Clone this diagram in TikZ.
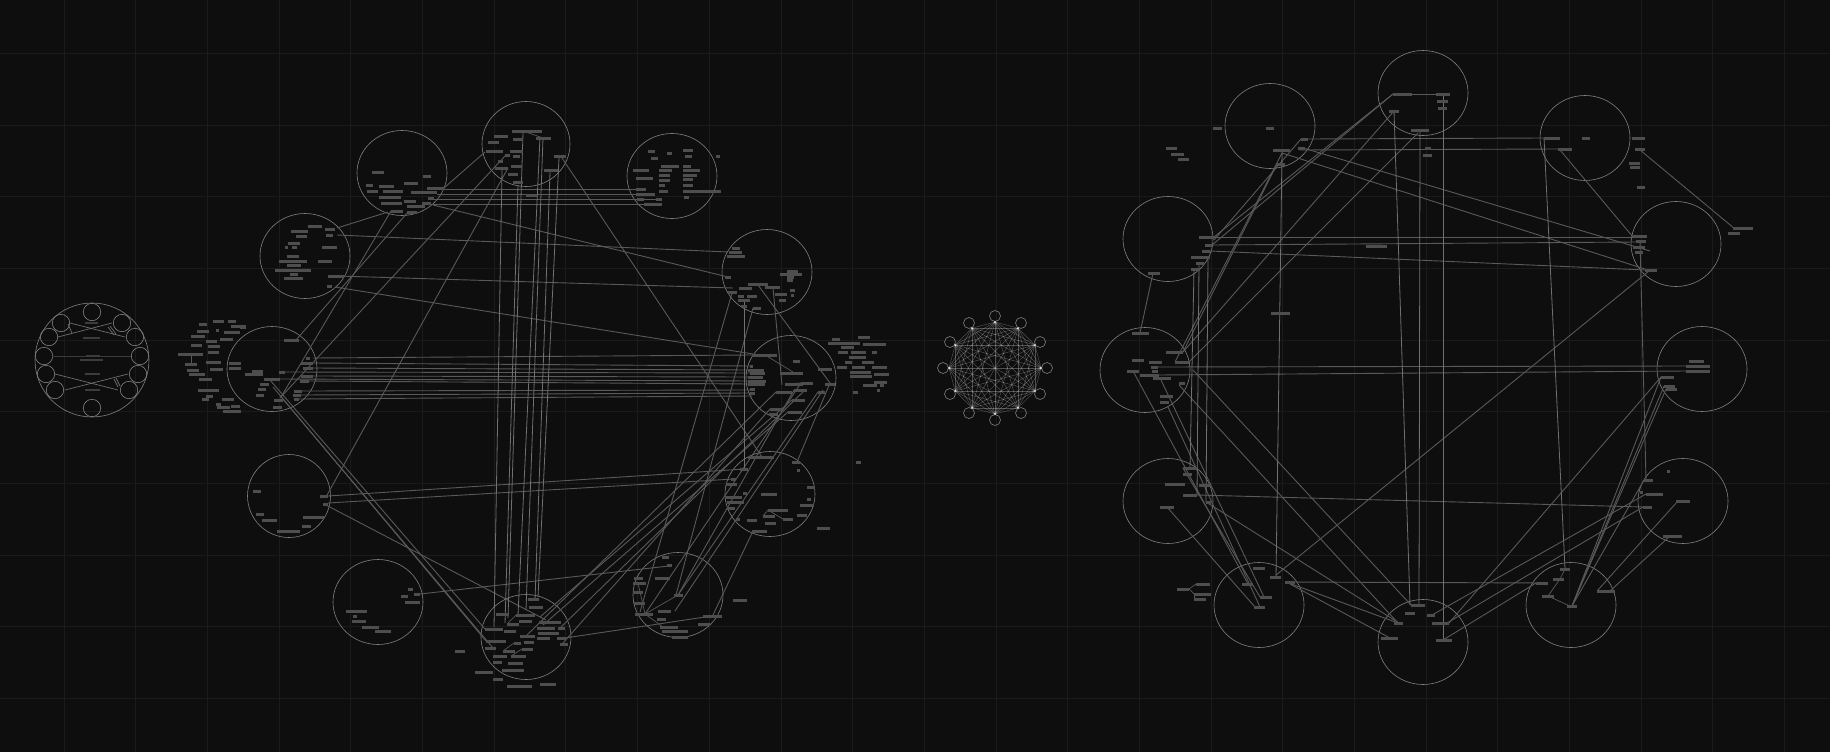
\documentclass[tikz,border=0pt]{standalone}
\definecolor{bgc}{HTML}{0E0E0E}
\definecolor{gridc}{HTML}{1B1B1B}
\definecolor{ringc}{HTML}{808080}
\definecolor{barc}{HTML}{4E4E4E}
\definecolor{faintbar}{HTML}{3C3C3C}
\definecolor{edgec}{HTML}{595959}
\definecolor{edgel}{HTML}{707070}
\tikzset{
  ring/.style={draw=ringc,line width=0.6pt},
  edge/.style={draw=edgec,line width=0.9pt},
  edgelight/.style={draw=edgel,line width=0.8pt},
  edgethin/.style={draw=edgec,line width=0.7pt},
  mesh/.style={draw=white,opacity=0.27,line width=0.5pt},
  smallline/.style={draw=ringc!85!black,line width=0.7pt},
  faintline/.style={draw=ringc!45!black,line width=0.5pt},
  gridline/.style={draw=gridc,line width=1pt}
}
\newcommand\barlist[1]{\foreach \bx/\by/\bw in {#1}{\fill[barc] (\bx,\by-1.5) rectangle ++(\bw,3);}}
\newcommand\edgelist[3]{\foreach \ax/\ay/\cx/\cy [count=\ei] in {#3}{\coordinate (#1s\ei) at (\ax,\ay); \coordinate (#1t\ei) at (\cx,\cy); \draw[#2] (#1s\ei) -- (#1t\ei);}}
\begin{document}
\begin{tikzpicture}[x=1pt,y=-1pt]
\useasboundingbox (0,0) rectangle (1830,752);
\fill[bgc] (0,0) rectangle (1830,752);
% grid
\foreach \k in {0,...,24}{\draw[gridline] ({64.2+71.68*\k},0) -- ({64.2+71.68*\k},752);}
\foreach \k in {0,...,9}{\draw[gridline] (0,{53.4+71.68*\k}) -- (1830,{53.4+71.68*\k});}

% ================= left small cluster =================
\draw[ring] (92,360) circle[radius=57];
\foreach \cx/\cy [count=\i] in {92/312,61/323,122/323,49/337,135/337,44/356,140/356,46/374,138/374,55/390,129/390,92/408}{
  \coordinate (sc\i) at (\cx,\cy);
  \draw[ring] (sc\i) circle[radius=8.7];}
\edgelist{sl}{smallline}{70/323/125/337, 112/323/58/337, 55/374/118/390, 128/374/65/390, 108/327/114/335, 110/326/116/334, 114/379/118/387, 116/378/120/386, 68/324/72/333}
\edgelist{sf}{faintline}{52/356/131/356}
\foreach \bx/\by/\bw in {85/323/13,83/338/17,86/356/14,80/360/23,85/374/15,85/390/15}{\fill[faintbar] (\bx,\by-0.6) rectangle ++(\bw,1.2);}

% ================= middle small cluster =================
\foreach \i in {0,...,11}{
  \coordinate (m\i) at ({995+46*cos(90+30*\i)},{368-46*sin(90+30*\i)});
  \coordinate (mo\i) at ({995+52*cos(90+30*\i)},{368-52*sin(90+30*\i)});
  \draw[ring] (mo\i) circle[radius=5.5];}
\foreach \i in {0,...,10}{\pgfmathtruncatemacro\s{\i+1}\foreach \j in {\s,...,11}{\draw[mesh] (m\i) -- (m\j);}}
\foreach \i in {0,...,11}{\fill[white,opacity=0.55] (m\i) circle[radius=1.3];}

% ================= left main cluster =================
\foreach \cx/\cy/\rx/\ry/\n in {402/173/45/42.5/A,526/144/44/42.5/B,672/176/45/42.5/C,305/256/45/42.5/D,272/369/45/42.5/E,767/272/45/42.5/F,791/378/45/42.5/G,770/494/45/42.5/H,526/637/45/42.5/I,678/595/45/42.5/J,378/602/45/42.5/K,289/496/41.5/41.5/L}{
  \coordinate (cl\n) at (\cx,\cy);
  \draw[ring] (cl\n) ellipse[x radius=\rx,y radius=\ry];}

\edgelist{lm}{edge}{337/228/388/212, 444/188/485/152, 442/189/636/189, 437/194/636/194, 430/199/656/199, 423/204/644/204, 433/205/728/277, 337/235/728/252, 337/276/733/288, 335/287/753/354, 562/158/762/457, 505/156/280/398, 391/211/281/397, 408/212/296/340, 508/168/326/497, 313/358/752/355, 313/363/750/366, 313/368/750/370, 285/372/750/373, 313/376/750/377, 280/379/752/381, 309/381/750/384, 302/391/750/390, 301/395/750/393, 299/399/752/396, 270/380/485/629, 273/387/486/641, 282/398/493/648, 328/496/745/469, 328/503/734/479, 326/505/546/620, 420/594/669/566, 565/638/705/617, 640/612/732/293, 753/308/676/595, 758/285/830/383, 773/288/782/385, 830/383/797/462, 753/531/712/617, 527/635/776/392, 540/617/792/400, 560/628/805/390, 563/643/770/409, 543/625/788/412, 645/614/801/383, 678/595/794/390, 678/595/818/392, 823/390/675/611}
\edgelist{lv}{edgelight}{502/170/494/627, 518/185/505/623, 523/133/508/618, 540/137/518/615, 543/138/526/610, 550/172/535/600, 559/158/538/597, 744/300/744/468}
\edgelist{li}{edgethin}{526/132/543/138, 191/354/191/364, 516/615/507/624, 503/651/514/643, 511/656/522/649, 645/614/678/595, 645/614/663/627, 638/583/645/614, 768/510/783/519, 768/510/763/516, 765/355/793/372, 785/384/801/383}

% bars: B
\barlist{512/131/30, 494/136/14, 513/139/10, 488/142/11, 536/138/15, 486/151/17, 510/151/13, 513/156/7, 505/155/5, 554/156/12, 498/161/5, 495/168/13, 511/166/11, 508/174/10, 544/170/14, 513/182/10, 526/195/11}
% A
\barlist{372/172/12, 423/176/8, 366/185/7, 379/186/15, 404/183/14, 427/188/17, 367/191/11, 383/191/20, 411/192/26, 379/197/22, 428/198/6, 404/201/12, 381/203/21, 422/203/9, 407/206/18, 391/211/12, 407/212/10}
% D
\barlist{308/226/14, 325/229/10, 291/231/17, 296/236/11, 326/235/7, 288/243/12, 285/247/3, 292/247/5, 322/247/15, 287/256/12, 279/261/28, 318/261/14, 287/265/14, 275/270/36, 290/274/8, 284/278/19, 328/276/16, 327/286/5}
% C
\barlist{648/151/7, 667/153/5, 683/150/10, 685/156/7, 651/158/7, 661/166/18, 683/166/8, 633/170/16, 659/170/13, 683/170/17, 659/175/11, 683/175/14, 636/178/17, 659/180/11, 683/179/10, 659/185/6, 683/185/10, 636/189/10, 659/191/9, 683/191/38, 636/194/19, 637/199/7, 656/199/6, 644/204/18, 684/197/5, 716/156/4}
% E
\barlist{213/321/11, 228/321/8, 199/324/8, 231/326/15, 197/331/12, 216/330/3, 224/332/16, 191/336/14, 206/341/11, 220/339/13, 284/340/15, 191/345/11, 208/346/12, 208/352/11, 178/354/25, 185/364/12, 206/362/15, 229/363/12, 229/368/12, 187/370/12, 210/369/13, 189/374/16, 252/371/11, 245/374/18, 279/372/6, 301/363/12, 303/368/10, 306/358/4, 301/376/12, 300/381/9, 264/379/16, 199/379/13, 260/384/9, 258/389/8, 256/395/8, 198/390/21, 206/396/7, 202/399/7, 294/391/8, 293/395/8, 294/399/5, 274/400/9, 273/407/9, 216/404/5, 222/399/12, 217/407/13, 223/411/18, 231/406/9, 240/327/6}
% F
\barlist{732/248/8, 729/252/13, 727/256/18, 725/277/6, 787/271/11, 780/274/22, 787/277/7, 787/280/6, 748/284/20, 765/287/15, 739/288/13, 728/292/9, 738/296/6, 747/296/10, 738/300/12, 741/306/6, 753/308/8, 775/294/12, 779/300/7, 790/290/5, 791/295/3}
% G
\barlist{752/355/25, 750/366/3, 748/370/16, 750/373/15, 748/377/15, 748/381/18, 748/384/17, 750/389/5, 750/393/5, 818/369/14, 825/384/10, 818/392/7, 801/383/12, 794/390/13, 792/400/13, 770/409/13, 788/412/14, 769/414/9, 785/384/18, 776/392/16, 780/373/23, 793/361/7}
\barlist{832/339/8, 858/337/12, 828/343/32, 863/344/23, 841/347/13, 838/352/10, 851/352/15, 872/352/5, 849/357/17, 845/362/7, 862/362/12, 837/367/10, 852/367/13, 872/367/15, 850/372/21, 874/374/15, 850/376/22, 863/385/14, 880/385/4, 874/382/13, 877/390/3, 853/392/5, 856/462/5}
% H
\barlist{748/457/26, 792/462/8, 797/470/3, 740/469/8, 731/479/5, 726/484/11, 807/487/8, 743/493/4, 761/494/16, 725/497/17, 807/499/4, 727/502/17, 800/505/14, 727/508/8, 768/510/20, 763/516/12, 797/515/10, 736/519/4, 747/520/10, 783/519/10, 765/523/11, 752/531/15, 817/528/13}
% J
\barlist{662/557/7, 667/565/5, 634/578/9, 655/578/15, 633/583/13, 633/592/10, 674/595/9, 634/603/11, 635/614/18, 658/611/13, 657/619/9, 703/616/19, 698/624/12, 660/627/18, 662/631/26, 672/637/16, 733/600/14}
% I
\barlist{528/599/11, 529/607/14, 496/614/13, 516/615/19, 519/621/13, 539/622/22, 507/624/12, 485/629/18, 537/628/18, 558/628/7, 504/631/12, 538/633/21, 520/636/15, 537/638/13, 557/638/9, 486/641/20, 524/642/10, 514/643/7, 560/644/8, 485/648/11, 522/649/11, 503/651/12, 493/656/14, 511/656/15, 493/662/9, 508/663/15, 502/670/22, 475/672/18, 493/679/10, 507/686/25, 540/684/16, 455/651/10}
% K
\barlist{408/589/5, 401/596/7, 414/594/6, 405/602/15, 346/611/21, 353/616/4, 352/621/14, 362/627/17, 375/631/16}
% L
\barlist{253/491/8, 320/496/8, 323/504/5, 256/514/8, 262/520/15, 303/517/21, 302/526/9, 277/531/23}

% ================= right cluster =================
\foreach \cx/\cy/\n in {1270/126/a,1423/93/b,1585/138/c,1168/239/d,1676/244/e,1145/370/f,1702/369/g,1168/501/h,1683/501/i,1259/605/j,1423/642/k,1571/605/l}{
  \coordinate (cr\n) at (\cx,\cy);
  \draw[ring] (cr\n) ellipse[x radius=45,y radius=42.5];}

\edgelist{rc}{edge}{1393/94/1214/237, 1393/94/1212/245, 1394/111/1183/352, 1418/133/1189/362, 1277/164/1183/352, 1282/153/1175/362, 1301/139/1214/240, 1282/153/1651/271, 1303/148/1650/251, 1308/139/1544/138, 1300/150/1558/149, 1560/150/1633/237, 1640/150/1735/229, 1214/237/1633/237, 1212/245/1636/242, 1210/251/1645/270, 1153/273/1140/333, 1649/271/1276/575, 1640/240/1646/480, 1158/367/1686/366, 1159/375/1686/371, 1133/371/1248/584, 1161/380/1264/597, 1168/407/1260/607, 1179/385/1398/623, 1193/370/1411/605, 1206/502/1399/623, 1197/495/1643/507, 1167/507/1255/607, 1183/468/1260/597, 1286/582/1548/583, 1286/582/1398/623, 1290/584/1390/638, 1432/615/1646/494, 1447/623/1643/507, 1443/640/1536/583, 1449/623/1661/377, 1572/606/1661/377, 1572/606/1664/386, 1572/606/1666/389, 1572/606/1644/480, 1597/591/1677/502, 1610/591/1670/536}
\edgelist{rv}{edgelight}{1443/94/1443/640, 1394/111/1410/605, 1420/130/1419/605, 1282/152/1276/577, 1544/138/1565/569, 1208/258/1206/502, 1194/269/1190/468, 1199/263/1197/495}
\edgelist{ri}{edgethin}{1393/94/1436/94, 1560/579/1548/596, 1548/596/1572/607, 1565/569/1560/579, 1189/589/1196/584, 1189/589/1194/594, 1194/594/1194/599}

\barlist{1166/148/11, 1171/154/13, 1178/159/11, 1213/128/9, 1266/128/8, 1301/139/7, 1273/150/17, 1298/148/7, 1277/164/8}
\barlist{1393/94/19, 1436/94/14, 1437/101/11, 1438/108/9, 1389/111/10, 1411/130/18, 1425/148/6, 1423/155/9}
\barlist{1544/138/16, 1582/138/8, 1558/149/14, 1632/138/13, 1635/149/10, 1629/163/11, 1630/167/10, 1637/187/8}
\barlist{1199/237/15, 1205/245/7, 1202/251/8, 1191/257/19, 1196/263/8, 1191/269/9, 1148/273/12, 1366/246/21, 1271/313/19}
\barlist{1633/236/14, 1636/241/10, 1633/247/12, 1635/252/8, 1645/270/12, 1733/228/20, 1728/233/12}
\barlist{1132/333/17, 1166/352/17, 1132/360/12, 1149/362/13, 1175/362/14, 1127/371/12, 1151/367/7, 1140/375/19, 1153/378/18, 1152/371/6, 1179/383/6, 1160/396/13, 1160/402/9}
\barlist{1689/361/15, 1686/366/24, 1686/371/24, 1661/377/13, 1664/386/11, 1666/389/11}
\barlist{1183/468/14, 1183/474/9, 1165/484/20, 1199/485/11, 1183/495/14, 1160/507/14, 1206/502/5, 1196/584/14, 1177/589/12, 1194/594/17, 1194/599/12}
\barlist{1253/568/12, 1270/577/11, 1242/584/11, 1285/582/10, 1260/597/12, 1254/607/11}
\barlist{1411/605/14, 1405/613/10, 1427/615/8, 1432/623/17, 1394/623/9, 1381/638/17, 1436/640/16}
\barlist{1560/569/10, 1553/579/11, 1536/583/12, 1542/596/12, 1567/606/10, 1597/591/18}
\barlist{1667/471/3, 1644/480/9, 1640/492/3, 1646/494/17, 1643/507/9, 1676/501/14, 1663/536/19}
\end{tikzpicture}
\end{document}
